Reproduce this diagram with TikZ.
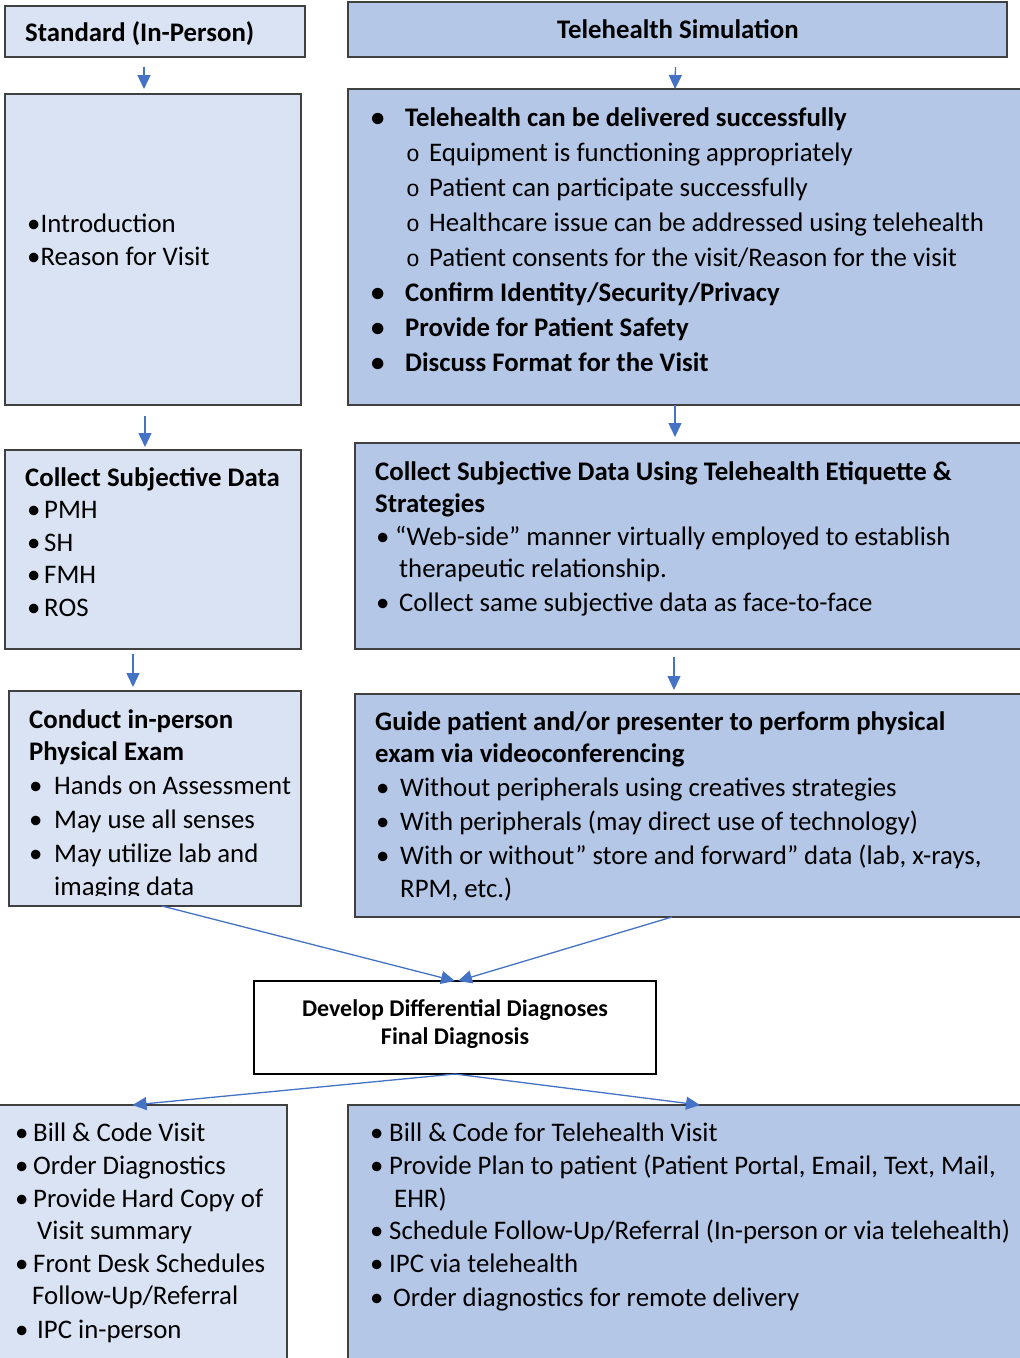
\documentclass[tikz,border=0pt]{standalone}
\usepackage{fontspec}
\setmainfont{Carlito}
\newfontfamily\monof{Liberation Mono}
\usetikzlibrary{arrows.meta}
\definecolor{lightb}{HTML}{DAE3F3}
\definecolor{darkb}{HTML}{B4C7E7}
\definecolor{edgec}{HTML}{404040}
\definecolor{arrc}{HTML}{4472C4}
\tikzset{
  box/.style={draw=edgec, line width=1.5pt, rectangle, anchor=north west, inner sep=0pt, outer sep=0pt},
  lbox/.style={box, fill=lightb},
  dbox/.style={box, fill=darkb},
  txt/.style={anchor=base west, inner sep=0pt, font=\fontsize{26.8}{30}\selectfont},
  btxt/.style={txt, font=\fontsize{26.8}{30}\selectfont\bfseries},
  arr/.style={draw=arrc, line width=1.3pt, -{Triangle[length=14pt,width=13pt]}},
}
\newcommand{\tline}[5][txt]{\node[#1] (#2) at (#3,#4) {#5};}
\newcommand{\osub}{{\monof\fontsize{23}{26}\selectfont o}}
\begin{document}
\begin{tikzpicture}[x=1pt,y=-1pt]
\useasboundingbox (0,0) rectangle (1020,1358);
\clip (0,0) rectangle (1020,1358);

% ---------- boxes ----------
\node[lbox, minimum width=300pt, minimum height=51pt] (std) at (5,6) {};
\node[lbox, minimum width=296pt, minimum height=311pt] (intro) at (5,94) {};
\node[lbox, minimum width=296pt, minimum height=199pt] (csd) at (5,450) {};
\node[lbox, minimum width=292pt, minimum height=215pt] (pe) at (9,691) {};
\node[dbox, minimum width=659pt, minimum height=55pt] (tele) at (348,2) {};
\node[dbox, minimum width=690pt, minimum height=316pt] (ready) at (348,89) {};
\node[dbox, minimum width=690pt, minimum height=206pt] (tsd) at (355,443) {};
\node[dbox, minimum width=690pt, minimum height=223pt] (tpe) at (355,694) {};
\node[box, fill=white, draw=black, line width=1.2pt, minimum width=402pt, minimum height=93pt] (dx) at (254,981) {};
\node[lbox, minimum width=289pt, minimum height=280pt] (bl) at (-2,1105) {};
\node[dbox, minimum width=690pt, minimum height=280pt] (br) at (348,1105) {};

% ---------- left column text ----------
\tline[btxt]{stdT}{25}{41}{Standard (In-Person)}
\tline{i1}{27}{232}{•Introduction}
\tline{i2}{27}{265}{•Reason for Visit}

\tline[btxt]{c0}{25}{486}{Collect Subjective Data}
\tline{c1b}{27}{518}{•}\tline{c1}{44}{518}{PMH}
\tline{c2b}{27}{551}{•}\tline{c2}{44}{551}{SH}
\tline{c3b}{27}{583}{•}\tline{c3}{44}{583}{FMH}
\tline{c4b}{27}{616}{•}\tline{c4}{44}{616}{ROS}

\tline[btxt]{p0}{29}{728}{Conduct in-person}
\tline[btxt]{p0b}{29}{760}{Physical Exam}
\tline{p1b}{29}{794}{•}\tline{p1}{54}{794}{Hands on Assessment}
\tline{p2b}{29}{828}{•}\tline{p2}{54}{828}{May use all senses}
\tline{p3b}{29}{862}{•}\tline{p3}{54}{862}{May utilize lab and}
\begin{scope}
\clip (9,800) rectangle (301,895);
\tline{p4}{54}{895}{imaging data}
\end{scope}

% ---------- right column text ----------
\tline[btxt]{teleT}{557}{38}{Telehealth Simulation}

\tline[btxt]{r1b}{371}{126}{•}\tline[btxt]{r1}{405}{126}{Telehealth can be delivered successfully}
\node[anchor=base west, inner sep=0pt] (r2b) at (406,161) {\osub};\tline{r2}{429}{161}{Equipment is functioning appropriately}
\node[anchor=base west, inner sep=0pt] (r3b) at (406,196) {\osub};\tline{r3}{429}{196}{Patient can participate successfully}
\node[anchor=base west, inner sep=0pt] (r4b) at (406,231) {\osub};\tline{r4}{429}{231}{Healthcare issue can be addressed using telehealth}
\node[anchor=base west, inner sep=0pt] (r5b) at (406,266) {\osub};\tline{r5}{429}{266}{Patient consents for the visit/Reason for the visit}
\tline[btxt]{r6b}{371}{301}{•}\tline[btxt]{r6}{405}{301}{Confirm Identity/Security/Privacy}
\tline[btxt]{r7b}{371}{336}{•}\tline[btxt]{r7}{405}{336}{Provide for Patient Safety}
\tline[btxt]{r8b}{371}{371}{•}\tline[btxt]{r8}{405}{371}{Discuss Format for the Visit}

\tline[btxt]{s0}{375}{480}{Collect Subjective Data Using Telehealth Etiquette \&}
\tline[btxt]{s0b}{375}{512}{Strategies}
\tline{s1b}{376}{545}{•}\tline{s1}{395}{545}{“Web-side” manner virtually employed to establish}
\tline{s1c}{399}{577}{therapeutic relationship.}
\tline{s2b}{376}{611}{•}\tline{s2}{399}{611}{Collect same subjective data as face-to-face}

\tline[btxt]{g0}{375}{730}{Guide patient and/or presenter to perform physical}
\tline[btxt]{g0b}{375}{762}{exam via videoconferencing}
\tline{g1b}{376}{796}{•}\tline{g1}{400}{796}{Without peripherals using creatives strategies}
\tline{g2b}{376}{830}{•}\tline{g2}{400}{830}{With peripherals (may direct use of technology)}
\tline{g3b}{376}{864}{•}\tline{g3}{400}{864}{With or without” store and forward” data (lab, x-rays,}
\tline{g4}{400}{897}{RPM, etc.)}

% ---------- diagnosis ----------
\node[anchor=base, inner sep=0pt, font=\fontsize{24}{28}\selectfont\bfseries] (dx1) at (455,1016) {Develop Differential Diagnoses};
\node[anchor=base, inner sep=0pt, font=\fontsize{24}{28}\selectfont\bfseries] (dx2) at (455,1044) {Final Diagnosis};

% ---------- bottom left ----------
\tline{b1b}{15}{1141}{•}\tline{b1}{33}{1141}{Bill \& Code Visit}
\tline{b2b}{15}{1174}{•}\tline{b2}{33}{1174}{Order Diagnostics}
\tline{b3b}{15}{1207}{•}\tline{b3}{33}{1207}{Provide Hard Copy of}
\tline{b3c}{37}{1239}{Visit summary}
\tline{b4b}{15}{1272}{•}\tline{b4}{33}{1272}{Front Desk Schedules}
\tline{b4c}{32}{1304}{Follow-Up/Referral}
\tline{b5b}{15}{1338}{•}\tline{b5}{37}{1338}{IPC in-person}

% ---------- bottom right ----------
\tline{q1b}{370}{1141}{•}\tline{q1}{389}{1141}{Bill \& Code for Telehealth Visit}
\tline{q2b}{370}{1174}{•}\tline{q2}{389}{1174}{Provide Plan to patient (Patient Portal, Email, Text, Mail,}
\tline{q2c}{394}{1207}{EHR)}
\tline{q3b}{370}{1239}{•}\tline{q3}{389}{1239}{Schedule Follow-Up/Referral (In-person or via telehealth)}
\tline{q4b}{370}{1272}{•}\tline{q4}{389}{1272}{IPC via telehealth}
\tline{q5b}{370}{1306}{•}\tline{q5}{393}{1306}{Order diagnostics for remote delivery}

% ---------- connectors ----------
\draw[arr] ([xshift=-11pt,yshift=-10pt]std.south) -- ([xshift=-9pt,yshift=5pt]intro.north);
\draw[arr] ([xshift=-8pt,yshift=-11pt]intro.south) -- ([xshift=-8pt,yshift=3pt]csd.north);
\draw[arr] ([xshift=-20pt,yshift=-5pt]csd.south) -- ([xshift=-22pt,yshift=4pt]pe.north);
\draw[arr] ([xshift=-2pt,yshift=-10pt]tele.south) -- ([xshift=-18pt]ready.north);
\draw[arr] ([xshift=-18pt]ready.south) -- ([xshift=-25pt,yshift=6pt]tsd.north);
\draw[arr] ([xshift=-26pt,yshift=-8pt]tsd.south) -- ([xshift=-26pt,yshift=4pt]tpe.north);
\draw[arr] ([xshift=7pt]pe.south) -- (dx.north);
\draw[arr] ([xshift=-28pt]tpe.south) -- ([xshift=3pt]dx.north);
\draw[arr] (dx.south) -- ([xshift=-10pt]bl.north);
\draw[arr] (dx.south) -- ([xshift=7pt]br.north);
\end{tikzpicture}
\end{document}
